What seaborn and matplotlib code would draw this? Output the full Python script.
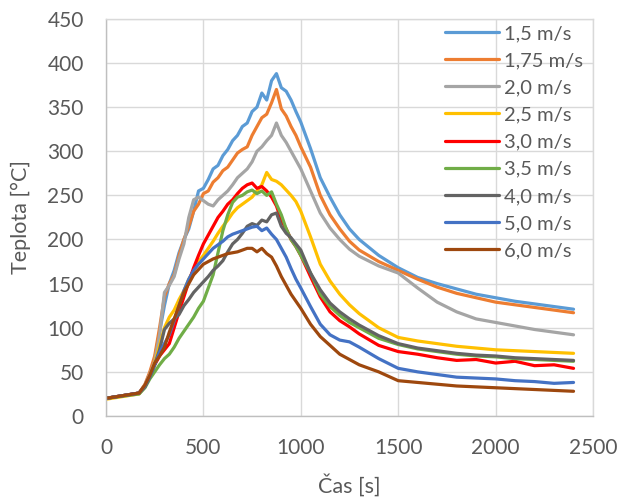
import matplotlib
matplotlib.use("Agg")
import matplotlib.pyplot as plt
import seaborn as sns
import pandas as pd

###############################################################################
# Data
###############################################################################

time_s = [0, 170, 200, 225, 250, 275, 300, 325, 350, 375, 400, 425, 450, 475,
          500, 525, 550, 575, 600, 625, 650, 675, 700, 725, 750, 775, 800, 825,
          850, 875, 900, 925, 950, 975, 1000, 1050, 1100, 1150, 1200, 1250, 1300,
          1400, 1500, 1600, 1700, 1800, 1900, 2000, 2100, 2200, 2300, 2400]

series_names = ["1,5 m/s", "1,75 m/s", "2,0 m/s", "2,5 m/s", "3,0 m/s",
                "3,5 m/s", "4,0 m/s", "5,0 m/s", "6,0 m/s"]

temp_1_5 = [20, 26, 35, 48, 65, 95, 125, 150, 165, 185, 200, 212, 232, 255,
            258, 268, 280, 284, 295, 302, 312, 318, 328, 332, 345, 350, 366, 358,
            380, 388, 372, 368, 358, 345, 333, 303, 270, 248, 228, 212, 200,
            182, 168, 157, 150, 144, 138, 134, 130, 127, 124, 121]
temp_1_75 = [20, 26, 36, 50, 68, 100, 135, 150, 160, 182, 200, 215, 232, 240,
             252, 255, 265, 270, 278, 282, 290, 298, 302, 305, 318, 328, 338, 342,
             355, 370, 348, 340, 328, 318, 305, 282, 250, 228, 212, 198, 188,
             175, 165, 155, 146, 139, 134, 129, 126, 123, 120, 117]
temp_2_0 = [20, 26, 35, 47, 62, 92, 140, 148, 158, 178, 195, 225, 245, 248,
            244, 240, 238, 245, 250, 255, 262, 270, 275, 280, 288, 300, 305, 312,
            318, 332, 318, 310, 300, 290, 280, 255, 230, 213, 200, 189, 181,
            170, 162, 145, 129, 118, 110, 106, 102, 98, 95, 92]
temp_2_5 = [19, 25, 33, 45, 60, 80, 100, 112, 120, 132, 142, 155, 165, 175,
            182, 190, 198, 207, 215, 222, 230, 236, 240, 244, 248, 255, 262, 276,
            268, 266, 262, 256, 250, 243, 232, 203, 172, 153, 138, 126, 116,
            100, 89, 85, 82, 79, 77, 75, 74, 73, 72, 71]
temp_3_0 = [20, 26, 34, 45, 58, 68, 75, 82, 100, 118, 135, 152, 168, 182,
            195, 205, 215, 225, 232, 240, 245, 252, 258, 262, 264, 258, 260, 255,
            248, 238, 222, 212, 200, 192, 182, 158, 135, 118, 108, 101, 93,
            80, 73, 70, 66, 63, 64, 60, 62, 57, 58, 54]
temp_3_5 = [20, 25, 32, 42, 50, 58, 65, 70, 78, 88, 96, 104, 112, 122,
            130, 145, 160, 185, 210, 228, 242, 248, 250, 254, 256, 252, 255, 250,
            254, 240, 228, 212, 200, 192, 182, 162, 138, 124, 114, 106, 100,
            88, 81, 76, 73, 70, 68, 67, 65, 64, 63, 62]
temp_4_0 = [20, 26, 33, 44, 58, 75, 98, 105, 110, 115, 125, 132, 140, 146,
            152, 158, 165, 170, 176, 186, 195, 200, 207, 215, 218, 216, 222, 220,
            228, 230, 215, 207, 202, 195, 188, 162, 143, 128, 118, 110, 103,
            91, 82, 77, 74, 71, 69, 68, 66, 65, 64, 63]
temp_5_0 = [20, 26, 34, 45, 58, 72, 82, 92, 108, 125, 142, 155, 165, 172,
            178, 184, 190, 194, 198, 203, 206, 208, 210, 212, 214, 215, 210, 213,
            206, 200, 190, 180, 167, 155, 145, 124, 104, 92, 86, 84, 78,
            65, 54, 50, 47, 44, 43, 42, 40, 39, 37, 38]
temp_6_0 = [20, 26, 35, 46, 60, 68, 78, 95, 110, 125, 140, 150, 160, 166,
            172, 175, 178, 180, 182, 184, 185, 186, 188, 190, 190, 186, 190, 184,
            180, 170, 158, 148, 138, 130, 122, 104, 90, 80, 70, 64, 58,
            50, 40, 38, 36, 34, 33, 32, 31, 30, 29, 28]

all_temps = [temp_1_5, temp_1_75, temp_2_0, temp_2_5, temp_3_0,
             temp_3_5, temp_4_0, temp_5_0, temp_6_0]

colors = ["#5B9BD5", "#ED7D31", "#A5A5A5", "#FFC000", "#FF0000",
          "#70AD47", "#636363", "#4472C4", "#9E480E"]

x_ticks = [0, 500, 1000, 1500, 2000, 2500]
y_ticks = [0, 50, 100, 150, 200, 250, 300, 350, 400, 450]

# long-form table for seaborn
rows = []
for name, temps in zip(series_names, all_temps):
    for t, v in zip(time_s, temps):
        rows.append({"Čas": t, "Teplota": v, "Rychlost": name})
df = pd.DataFrame(rows)

###############################################################################
# Plot
###############################################################################

sns.set_theme(style="white")
plt.rcParams['font.family'] = ['Lato', 'DejaVu Sans']
text_color = "#595959"

fig = plt.figure(figsize=(6.22, 4.97), dpi=100)
ax = fig.add_axes([0.1704, 0.163, 0.783, 0.799])

sns.lineplot(data=df, x="Čas", y="Teplota", hue="Rychlost",
             hue_order=series_names, palette=colors, linewidth=2.3,
             estimator=None, sort=False, ax=ax)

ax.set_xlim(0, 2500)
ax.set_ylim(0, 450)
ax.set_xticks(x_ticks)
ax.set_yticks(y_ticks)
ax.grid(True, color="#D9D9D9", linewidth=1.0)
ax.set_axisbelow(True)
for side in ["top", "right"]:
    ax.spines[side].set_color("#D9D9D9")
    ax.spines[side].set_linewidth(1.0)
for side in ["left", "bottom"]:
    ax.spines[side].set_color("#BFBFBF")
    ax.spines[side].set_linewidth(1.0)

ax.tick_params(axis="both", length=0, pad=16, labelsize=15, colors=text_color)
ax.set_xlabel("Čas [s]", fontsize=15.5, color=text_color, labelpad=11)
ax.set_ylabel("Teplota [°C]", fontsize=15.5, color=text_color, labelpad=12)

ax.legend(loc="upper left", bbox_to_anchor=((445 - 106) / 487, 0.985),
          frameon=False, fontsize=14.5, labelcolor=text_color,
          borderaxespad=0, borderpad=0, handlelength=2.7, handletextpad=0.25,
          labelspacing=0.5)

fig.savefig("out.png", dpi=100)
